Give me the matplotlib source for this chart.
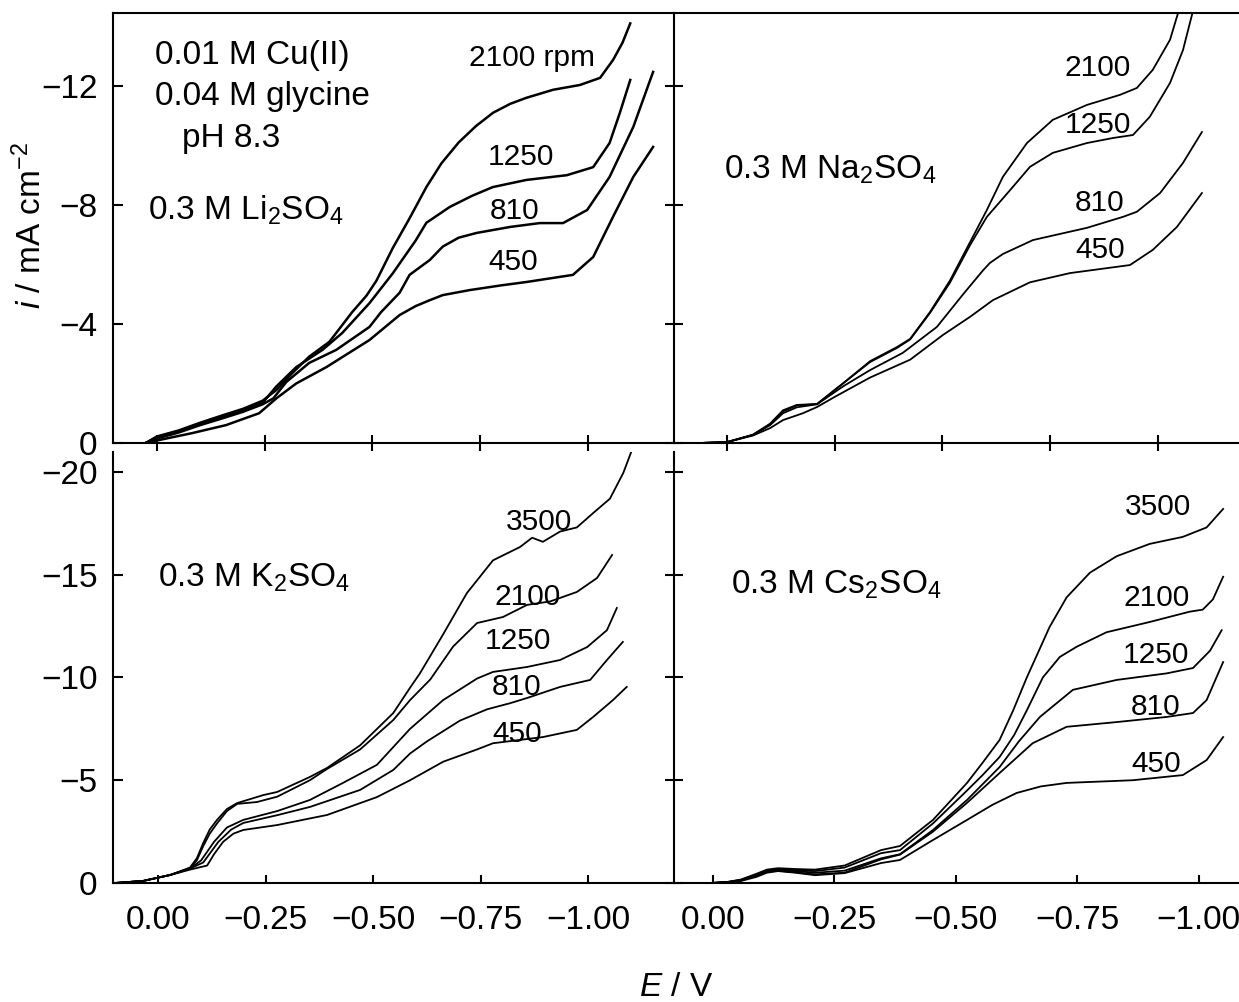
import matplotlib
matplotlib.use("Agg")
import matplotlib.pyplot as plt

plt.rcParams['font.family'] = ['Liberation Sans', 'DejaVu Sans']
plt.rcParams['mathtext.fontset'] = 'custom'
plt.rcParams['mathtext.rm'] = 'Liberation Sans'
plt.rcParams['mathtext.it'] = 'Liberation Sans:italic'
plt.rcParams['mathtext.default'] = 'regular'

# ---- 0.3 M Li2SO4 (E / V, i / mA cm-2) ----
li_2100_E = [0.026, 0.0, -0.05, -0.10, -0.15, -0.20, -0.245, -0.277, -0.314, -0.353, -0.40, -0.453,
             -0.486, -0.509, -0.547, -0.586, -0.625, -0.66, -0.70, -0.74, -0.78, -0.82, -0.857,
             -0.919, -0.981, -1.028, -1.058, -1.08, -1.098]
li_2100_i = [0, -0.22, -0.42, -0.68, -0.92, -1.15, -1.42, -1.78, -2.35, -2.9, -3.4, -4.4,
             -4.95, -5.45, -6.55, -7.55, -8.6, -9.4, -10.1, -10.65, -11.1, -11.4, -11.6,
             -11.87, -12.03, -12.27, -12.87, -13.45, -14.1]
li_1250_E = [0.026, 0.0, -0.05, -0.10, -0.15, -0.20, -0.245, -0.277, -0.323, -0.384, -0.43, -0.493,
             -0.547, -0.60, -0.625, -0.679, -0.73, -0.779, -0.857, -0.951, -1.012, -1.05, -1.074, -1.098]
li_1250_i = [0, -0.2, -0.4, -0.65, -0.88, -1.1, -1.35, -1.9, -2.55, -3.13, -3.7, -4.7,
             -5.7, -6.8, -7.4, -7.93, -8.3, -8.6, -8.84, -9.0, -9.27, -10.08, -11.1, -12.2]
li_810_E = [0.026, 0.0, -0.05, -0.10, -0.15, -0.20, -0.245, -0.27, -0.30, -0.353, -0.416, -0.493,
            -0.52, -0.563, -0.586, -0.633, -0.663, -0.70, -0.742, -0.819, -0.888, -0.942, -0.998,
            -1.05, -1.105, -1.151]
li_810_i = [0, -0.15, -0.35, -0.6, -0.82, -1.05, -1.3, -1.5, -2.05, -2.69, -3.13, -3.9,
            -4.4, -5.05, -5.65, -6.15, -6.6, -6.9, -7.06, -7.26, -7.39, -7.39, -7.83,
            -8.94, -10.62, -12.47]
li_450_E = [0.026, -0.005, -0.081, -0.16, -0.237, -0.277, -0.323, -0.393, -0.493, -0.563, -0.60,
            -0.633, -0.663, -0.726, -0.80, -0.857, -0.965, -1.012, -1.058, -1.105, -1.151]
li_450_i = [0, -0.1, -0.33, -0.6, -1.0, -1.5, -2.0, -2.55, -3.46, -4.3, -4.6,
            -4.8, -4.97, -5.14, -5.3, -5.41, -5.65, -6.25, -7.6, -8.94, -9.95]

# ---- 0.3 M Na2SO4 ----
na_2100_E = [0.063, 0.0, -0.06, -0.10, -0.13, -0.162, -0.209, -0.269, -0.332, -0.394, -0.425, -0.471,
             -0.517, -0.564, -0.603, -0.640, -0.696, -0.756, -0.835, -0.912, -0.951, -0.988, -1.028, -1.056]
na_2100_i = [0, -0.03, -0.28, -0.65, -1.1, -1.28, -1.31, -2.0, -2.75, -3.22, -3.5, -4.4,
             -5.45, -6.75, -7.83, -8.94, -10.08, -10.86, -11.36, -11.7, -11.93, -12.54, -13.55, -14.9]
na_1250_E = [0.063, 0.0, -0.06, -0.10, -0.13, -0.162, -0.209, -0.269, -0.332, -0.394, -0.425, -0.471,
             -0.517, -0.564, -0.603, -0.657, -0.703, -0.756, -0.835, -0.896, -0.942, -0.981, -1.028,
             -1.058, -1.088]
na_1250_i = [0, -0.03, -0.27, -0.62, -1.06, -1.26, -1.31, -2.0, -2.72, -3.19, -3.48, -4.37,
             -5.38, -6.65, -7.6, -8.5, -9.28, -9.75, -10.08, -10.25, -10.35, -10.96, -12.1,
             -13.2, -14.9]
na_810_E = [0.063, 0.0, -0.06, -0.10, -0.13, -0.162, -0.209, -0.269, -0.332, -0.408, -0.487, -0.548,
            -0.594, -0.61, -0.64, -0.71, -0.835, -0.919, -0.951, -1.005, -1.058, -1.102]
na_810_i = [0, -0.03, -0.27, -0.6, -1.0, -1.2, -1.3, -1.9, -2.45, -3.03, -3.9, -5.0,
            -5.8, -6.05, -6.35, -6.82, -7.23, -7.6, -7.77, -8.4, -9.41, -10.45]
na_450_E = [0.063, 0.0, -0.06, -0.10, -0.13, -0.176, -0.209, -0.25, -0.332, -0.425, -0.501, -0.564,
            -0.617, -0.703, -0.796, -0.935, -0.988, -1.044, -1.102]
na_450_i = [0, -0.03, -0.25, -0.5, -0.77, -1.0, -1.21, -1.55, -2.2, -2.8, -3.63, -4.24,
            -4.8, -5.4, -5.71, -5.98, -6.49, -7.26, -8.4]

# ---- 0.3 M K2SO4 ----
k_3500_E = [0.10, 0.035, -0.028, -0.074, -0.09, -0.105, -0.12, -0.137, -0.16, -0.184, -0.245, -0.277,
            -0.353, -0.393, -0.47, -0.547, -0.586, -0.609, -0.663, -0.718, -0.779, -0.842, -0.87,
            -0.895, -0.935, -0.974, -1.012, -1.051, -1.082, -1.11]
k_3500_i = [0, -0.1, -0.39, -0.75, -1.2, -1.95, -2.6, -3.07, -3.6, -3.89, -4.28, -4.43,
            -5.16, -5.6, -6.7, -8.27, -9.5, -10.2, -12.1, -14.1, -15.7, -16.35, -16.8,
            -16.6, -17.1, -17.3, -18.0, -18.7, -19.95, -21.5]
k_2100_E = [0.10, 0.035, -0.028, -0.074, -0.09, -0.105, -0.12, -0.137, -0.16, -0.184, -0.23, -0.277,
            -0.353, -0.393, -0.47, -0.547, -0.586, -0.633, -0.686, -0.742, -0.802, -0.858, -0.912,
            -0.974, -1.021, -1.056]
k_2100_i = [0, -0.1, -0.39, -0.72, -1.1, -1.8, -2.4, -2.9, -3.5, -3.85, -3.94, -4.2,
            -5.0, -5.55, -6.5, -7.93, -8.9, -9.9, -11.5, -12.65, -12.94, -13.53, -13.7,
            -14.16, -14.84, -15.96]
k_1250_E = [0.10, 0.035, -0.028, -0.074, -0.10, -0.13, -0.16, -0.198, -0.277, -0.353, -0.43, -0.509,
            -0.586, -0.663, -0.742, -0.779, -0.858, -0.935, -0.998, -1.044, -1.067]
k_1250_i = [0, -0.1, -0.39, -0.7, -1.1, -2.0, -2.7, -3.07, -3.5, -4.04, -4.87, -5.75,
            -7.5, -8.9, -9.95, -10.27, -10.51, -10.85, -11.48, -12.3, -13.38]
k_810_E = [0.10, 0.035, -0.028, -0.074, -0.105, -0.14, -0.17, -0.198, -0.277, -0.353, -0.47, -0.547,
           -0.586, -0.626, -0.702, -0.765, -0.819, -0.858, -0.935, -0.974, -1.005, -1.044, -1.081]
k_810_i = [0, -0.1, -0.39, -0.7, -1.0, -2.0, -2.6, -2.92, -3.3, -3.7, -4.53, -5.5,
           -6.3, -6.9, -7.9, -8.45, -8.75, -9.0, -9.54, -9.73, -9.88, -10.85, -11.73]
k_450_E = [0.10, 0.035, -0.028, -0.074, -0.114, -0.13, -0.151, -0.175, -0.198, -0.277, -0.393, -0.509,
           -0.586, -0.663, -0.742, -0.779, -0.895, -0.974, -1.012, -1.058, -1.09]
k_450_i = [0, -0.1, -0.39, -0.65, -0.85, -1.4, -2.0, -2.4, -2.58, -2.82, -3.31, -4.18,
           -5.0, -5.9, -6.5, -6.8, -7.1, -7.45, -8.08, -8.9, -9.54]

# ---- 0.3 M Cs2SO4 ----
cs_3500_E = [0.003, -0.03, -0.058, -0.09, -0.111, -0.134, -0.17, -0.21, -0.271, -0.346, -0.385, -0.453,
             -0.523, -0.555, -0.59, -0.618, -0.646, -0.693, -0.728, -0.776, -0.831, -0.899, -0.967,
             -1.016, -1.05]
cs_3500_i = [0, -0.05, -0.17, -0.45, -0.65, -0.72, -0.68, -0.65, -0.85, -1.6, -1.8, -3.07,
             -4.87, -5.85, -6.96, -8.4, -10.0, -12.46, -13.9, -15.1, -15.9, -16.5, -16.84,
             -17.3, -18.2]
cs_2100_E = [0.003, -0.03, -0.058, -0.09, -0.111, -0.134, -0.17, -0.21, -0.271, -0.346, -0.385, -0.453,
             -0.523, -0.555, -0.59, -0.62, -0.646, -0.679, -0.714, -0.749, -0.81, -0.899, -0.981,
             -1.008, -1.029, -1.05]
cs_2100_i = [0, -0.05, -0.15, -0.42, -0.62, -0.68, -0.62, -0.58, -0.75, -1.45, -1.6, -2.9,
             -4.5, -5.25, -6.13, -7.2, -8.4, -10.0, -11.0, -11.5, -12.2, -12.7, -13.2,
             -13.3, -13.8, -14.9]
cs_1250_E = [0.003, -0.03, -0.058, -0.09, -0.111, -0.134, -0.17, -0.21, -0.271, -0.346, -0.385, -0.453,
             -0.523, -0.59, -0.63, -0.673, -0.741, -0.831, -0.934, -0.988, -1.023, -1.047]
cs_1250_i = [0, -0.04, -0.13, -0.38, -0.58, -0.64, -0.58, -0.5, -0.6, -1.2, -1.4, -2.58,
             -4.04, -5.64, -6.9, -8.08, -9.4, -9.88, -10.2, -10.46, -11.3, -12.3]
cs_810_E = [0.003, -0.03, -0.058, -0.09, -0.111, -0.134, -0.17, -0.21, -0.271, -0.346, -0.385, -0.453,
            -0.523, -0.59, -0.658, -0.728, -0.831, -0.934, -0.988, -1.016, -1.05]
cs_810_i = [0, -0.04, -0.12, -0.36, -0.55, -0.6, -0.52, -0.42, -0.5, -1.15, -1.38, -2.5,
            -3.9, -5.35, -6.8, -7.6, -7.83, -8.08, -8.27, -8.9, -10.75]
cs_450_E = [0.003, -0.03, -0.058, -0.09, -0.111, -0.134, -0.17, -0.21, -0.271, -0.346, -0.385, -0.45,
            -0.523, -0.575, -0.625, -0.675, -0.728, -0.864, -0.967, -1.016, -1.05]
cs_450_i = [0, -0.03, -0.1, -0.3, -0.5, -0.58, -0.5, -0.38, -0.48, -0.97, -1.12, -2.05,
            -3.07, -3.8, -4.38, -4.7, -4.87, -5.0, -5.25, -5.98, -7.1]

x_ticks = [0.0, -0.25, -0.50, -0.75, -1.00]
x_labels = ['0.00', '\u22120.25', '\u22120.50', '\u22120.75', '\u22121.00']
y_ticks_top = [0, -4, -8, -12]
y_labels_top = ['0', '\u22124', '\u22128', '\u221212']
y_ticks_bot = [0, -5, -10, -15, -20]
y_labels_bot = ['0', '\u22125', '\u221210', '\u221215', '\u221220']

W, H = 1239, 1002
fig = plt.figure(figsize=(W / 100, H / 100), dpi=100)


def box(x0, x1, y0, y1):
    return [x0 / W, 1 - y1 / H, (x1 - x0) / W, (y1 - y0) / H]


ax_tl = fig.add_axes(box(113, 674, 13, 443))
ax_tr = fig.add_axes(box(674, 1245, 13, 443))
ax_bl = fig.add_axes(box(113, 674, 452, 883))
ax_br = fig.add_axes(box(674, 1245, 452, 883))

ax_tl.set_xlim(0.102, -1.1995)
ax_tr.set_xlim(0.123, -1.202)
ax_bl.set_xlim(0.105, -1.2)
ax_br.set_xlim(0.080, -1.095)
for ax in (ax_tl, ax_tr):
    ax.set_ylim(0, -14.45)
for ax in (ax_bl, ax_br):
    ax.set_ylim(0, -20.97)

curves = {
    ax_tl: [(li_2100_E, li_2100_i), (li_1250_E, li_1250_i), (li_810_E, li_810_i), (li_450_E, li_450_i)],
    ax_tr: [(na_2100_E, na_2100_i), (na_1250_E, na_1250_i), (na_810_E, na_810_i), (na_450_E, na_450_i)],
    ax_bl: [(k_3500_E, k_3500_i), (k_2100_E, k_2100_i), (k_1250_E, k_1250_i),
            (k_810_E, k_810_i), (k_450_E, k_450_i)],
    ax_br: [(cs_3500_E, cs_3500_i), (cs_2100_E, cs_2100_i), (cs_1250_E, cs_1250_i),
            (cs_810_E, cs_810_i), (cs_450_E, cs_450_i)],
}
for ax, lst in curves.items():
    lw = 1.8 if ax is ax_tl else 1.3
    for E, i in lst:
        ax.plot(E, i, color='black', lw=lw, solid_joinstyle='round')

fs = 24      # tick labels, panel texts
fs_rpm = 21.5
for ax in (ax_tl, ax_tr, ax_bl, ax_br):
    ax.spines['right'].set_visible(False)
    for s in ax.spines.values():
        s.set_linewidth(1.5)
    ax.set_xticks(x_ticks)
    ax.patch.set_alpha(0)
for ax in (ax_bl, ax_br):
    ax.spines['top'].set_visible(False)

ax_tl.set_yticks(y_ticks_top)
ax_tl.set_yticklabels(y_labels_top)
ax_tr.set_yticks(y_ticks_top)
ax_tr.set_yticklabels([])
ax_bl.set_yticks(y_ticks_bot)
ax_bl.set_yticklabels(y_labels_bot)
ax_br.set_yticks(y_ticks_bot)
ax_br.set_yticklabels([])

for ax in (ax_tl, ax_tr):
    ax.set_xticklabels([])
    ax.tick_params(axis='x', direction='inout', length=11, width=1.5)
for ax in (ax_bl, ax_br):
    ax.set_xticklabels(x_labels)
    ax.tick_params(axis='x', direction='in', length=6, width=1.5, labelsize=fs, pad=16)
for ax in (ax_tl, ax_bl):
    ax.tick_params(axis='y', direction='in', length=7, width=1.5, labelsize=fs, pad=11)
for ax in (ax_tr, ax_br):
    ax.tick_params(axis='y', direction='inout', length=13, width=1.5)

# panel texts
ax_tl.text(0.075, 0.902, '0.01 M Cu(II)', transform=ax_tl.transAxes, fontsize=fs, va='center')
ax_tl.text(0.075, 0.805, '0.04 M glycine', transform=ax_tl.transAxes, fontsize=fs, va='center')
ax_tl.text(0.123, 0.709, 'pH 8.3', transform=ax_tl.transAxes, fontsize=fs, va='center')
ax_tl.text(0.062, 0.54, '0.3 M Li$_2$SO$_4$', transform=ax_tl.transAxes, fontsize=fs, va='center')
ax_tr.text(0.088, 0.635, '0.3 M Na$_2$SO$_4$', transform=ax_tr.transAxes, fontsize=fs, va='center')
ax_bl.text(0.08, 0.708, '0.3 M K$_2$SO$_4$', transform=ax_bl.transAxes, fontsize=fs, va='center')
ax_br.text(0.10, 0.691, '0.3 M Cs$_2$SO$_4$', transform=ax_br.transAxes, fontsize=fs, va='center')

rpm_tl = [('2100 rpm', 0.746, 0.895), ('1250', 0.728, 0.665), ('810', 0.716, 0.54), ('450', 0.714, 0.421)]
rpm_tr = [('2100', 0.742, 0.872), ('1250', 0.742, 0.74), ('810', 0.746, 0.558), ('450', 0.746, 0.449)]
rpm_bl = [('3500', 0.760, 0.838), ('2100', 0.739, 0.664), ('1250', 0.721, 0.561),
          ('810', 0.719, 0.455), ('450', 0.721, 0.346)]
rpm_br = [('3500', 0.848, 0.872), ('2100', 0.846, 0.661), ('1250', 0.844, 0.529),
          ('810', 0.844, 0.408), ('450', 0.844, 0.276)]
for ax, labs in ((ax_tl, rpm_tl), (ax_tr, rpm_tr), (ax_bl, rpm_bl), (ax_br, rpm_br)):
    for t, x, y in labs:
        ax.text(x, y, t, transform=ax.transAxes, fontsize=fs_rpm, ha='center', va='center')

fig.text(31 / W, 1 - 226 / H, r'$\mathit{i}$ / mA cm$^{-2}$', rotation=90,
         fontsize=fs, ha='center', va='center')
fig.text(676 / W, 1 - 988 / H, r'$\mathit{E}$ / V', fontsize=fs, ha='center', va='center')

fig.savefig('out.png', dpi=100)
